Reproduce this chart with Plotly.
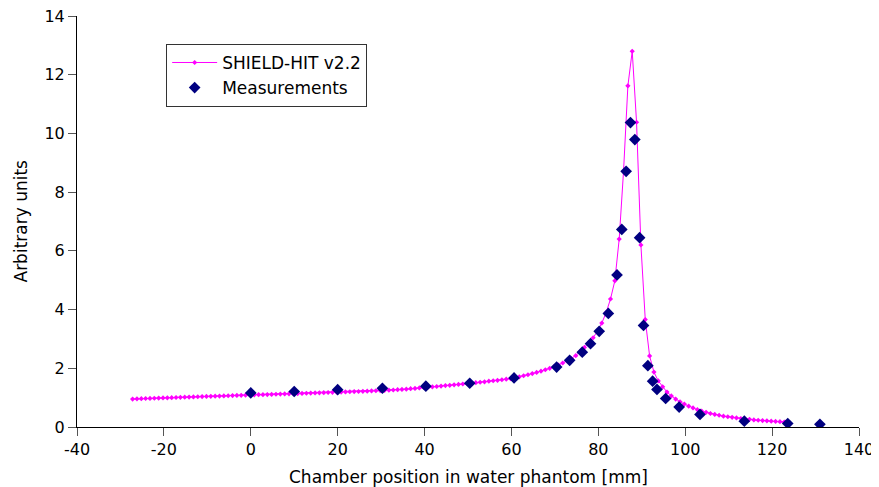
import plotly.graph_objects as go

# ----------------------- Data -----------------------
# SHIELD-HIT v2.2 simulation, depth [mm]
sim_depth = [
    -27.2, -26.2, -25.2, -24.2, -23.2, -22.2, -21.2, -20.2, -19.2, -18.2,
    -17.2, -16.2, -15.2, -14.2, -13.2, -12.2, -11.2, -10.2, -9.2, -8.2,
    -7.2, -6.2, -5.2, -4.2, -3.2, -2.2, -1.2, -0.2, 0.8, 1.8,
    2.8, 3.8, 4.8, 5.8, 6.8, 7.8, 8.8, 9.8, 10.8, 11.8,
    12.8, 13.8, 14.8, 15.8, 16.8, 17.8, 18.8, 19.8, 20.8, 21.8,
    22.8, 23.8, 24.8, 25.8, 26.8, 27.8, 28.8, 29.8, 30.8, 31.8,
    32.8, 33.8, 34.8, 35.8, 36.8, 37.8, 38.8, 39.8, 40.8, 41.8,
    42.8, 43.8, 44.8, 45.8, 46.8, 47.8, 48.8, 49.8, 50.8, 51.8,
    52.8, 53.8, 54.8, 55.8, 56.8, 57.8, 58.8, 59.8, 60.8, 61.8,
    62.8, 63.8, 64.8, 65.8, 66.8, 67.8, 68.8, 69.8, 70.8, 71.8,
    72.8, 73.8, 74.8, 75.8, 76.8, 77.8, 78.8, 79.8, 80.8, 81.8,
    82.8, 83.8, 84.8, 85.8, 86.8, 87.8, 88.8, 89.8, 90.8, 91.8,
    92.8, 93.8, 94.8, 95.8, 96.8, 97.8, 98.8, 99.8, 100.8, 101.8,
    102.8, 103.8, 104.8, 105.8, 106.8, 107.8, 108.8, 109.8, 110.8, 111.8,
    112.8, 113.8, 114.8, 115.8, 116.8, 117.8, 118.8, 119.8, 120.8, 121.8,
    122.8,
]
sim_dose = [
    0.95, 0.96, 0.965, 0.97, 0.975, 0.98, 0.985, 0.99, 0.995, 1.0,
    1.005, 1.01, 1.015, 1.02, 1.025, 1.03, 1.035, 1.04, 1.045, 1.05,
    1.055, 1.06, 1.065, 1.07, 1.075, 1.08, 1.085, 1.09, 1.095, 1.10,
    1.10, 1.105, 1.11, 1.115, 1.12, 1.125, 1.13, 1.135, 1.14, 1.145,
    1.15, 1.155, 1.16, 1.165, 1.17, 1.175, 1.18, 1.185, 1.19, 1.195,
    1.20, 1.205, 1.21, 1.215, 1.22, 1.23, 1.235, 1.24, 1.25, 1.255,
    1.26, 1.27, 1.28, 1.29, 1.305, 1.315, 1.33, 1.345, 1.36, 1.37,
    1.38, 1.395, 1.41, 1.42, 1.435, 1.45, 1.465, 1.48, 1.495, 1.51,
    1.525, 1.54, 1.56, 1.575, 1.59, 1.61, 1.63, 1.65, 1.68, 1.71,
    1.745, 1.78, 1.82, 1.86, 1.90, 1.95, 2.00, 2.05, 2.11, 2.18,
    2.25, 2.33, 2.43, 2.56, 2.71, 2.86, 3.04, 3.26, 3.54, 3.90,
    4.36, 4.98, 6.40, 8.70, 11.62, 12.80, 10.38, 6.20, 3.66, 2.42,
    1.87, 1.57, 1.37, 1.19, 1.06, 0.95, 0.86, 0.78, 0.71, 0.65,
    0.59, 0.54, 0.50, 0.46, 0.43, 0.40, 0.37, 0.35, 0.33, 0.31,
    0.29, 0.27, 0.26, 0.24, 0.23, 0.22, 0.21, 0.20, 0.19, 0.18,
    0.17,
]

# Measurements
meas_depth = [0, 10, 20, 30.3, 40.3, 50.4, 60.6, 70.4, 73.4, 76.3,
              78.2, 80.2, 82.3, 84.3, 85.4, 86.4, 87.4, 88.4, 89.5, 90.4,
              91.4, 92.5, 93.5, 95.5, 98.6, 103.4, 113.6, 123.6, 131]
meas_dose = [1.16, 1.21, 1.27, 1.32, 1.39, 1.49, 1.67, 2.04, 2.27, 2.55,
             2.84, 3.26, 3.87, 5.18, 6.73, 8.71, 10.37, 9.79, 6.45, 3.46,
             2.09, 1.56, 1.28, 0.97, 0.68, 0.43, 0.20, 0.12, 0.09]

x_ticks = [-40, -20, 0, 20, 40, 60, 80, 100, 120, 140]
x_tick_labels = ["-40", "-20", "0", "20", "40", "60", "80", "100", "120", "140"]
y_ticks = [0, 2, 4, 6, 8, 10, 12, 14]

# ----------------------- Plot -----------------------
fig = go.Figure()
fig.add_trace(go.Scatter(x=sim_depth, y=sim_dose, mode='lines+markers', name='SHIELD-HIT v2.2',
                         line=dict(color='#FF00FF', width=1),
                         marker=dict(symbol='diamond', size=4, color='#FF00FF')))
fig.add_trace(go.Scatter(x=meas_depth, y=meas_dose, mode='markers', name='Measurements',
                         marker=dict(symbol='diamond', size=9, color='#000080')))

fam = 'DejaVu Sans'
# page body has an 8px margin, so the figure is sized to fit the window
fig.update_layout(
    width=871, height=479,
    margin=dict(l=69, r=20, t=8, b=60),
    plot_bgcolor='white', paper_bgcolor='white',
    font=dict(family=fam, size=16, color='black'),
    legend=dict(x=0.114, y=0.932, xanchor='left', yanchor='top',
                bgcolor='white', bordercolor='#333', borderwidth=1,
                itemwidth=45, font=dict(family=fam, size=17, color='black'),
                tracegroupgap=0),
)
fig.update_xaxes(range=[-40, 140], tickvals=x_ticks, ticktext=x_tick_labels,
                 showline=True, linecolor='black', linewidth=1, ticks='outside',
                 ticklen=8, tickcolor='#555', showgrid=False, zeroline=False,
                 automargin=False, tickfont=dict(size=16), ticklabeloverflow='allow')
fig.update_yaxes(range=[0, 14], tickvals=y_ticks,
                 showline=True, linecolor='black', linewidth=1, ticks='outside',
                 ticklen=8, tickcolor='#555', showgrid=False, zeroline=False,
                 automargin=False, tickfont=dict(size=16), ticklabeloverflow='allow')

# axis titles
fig.add_annotation(text='Chamber position in water phantom [mm]', xref='paper', yref='paper',
                   x=0.5, y=0, yanchor='middle', yshift=-50, showarrow=False,
                   font=dict(family=fam, size=17, color='black'))
fig.add_annotation(text='Arbitrary units', xref='paper', yref='paper',
                   x=0, y=0.5, xanchor='center', xshift=-57, textangle=-90, showarrow=False,
                   font=dict(family=fam, size=17, color='black'))

fig.write_html("out.html")
